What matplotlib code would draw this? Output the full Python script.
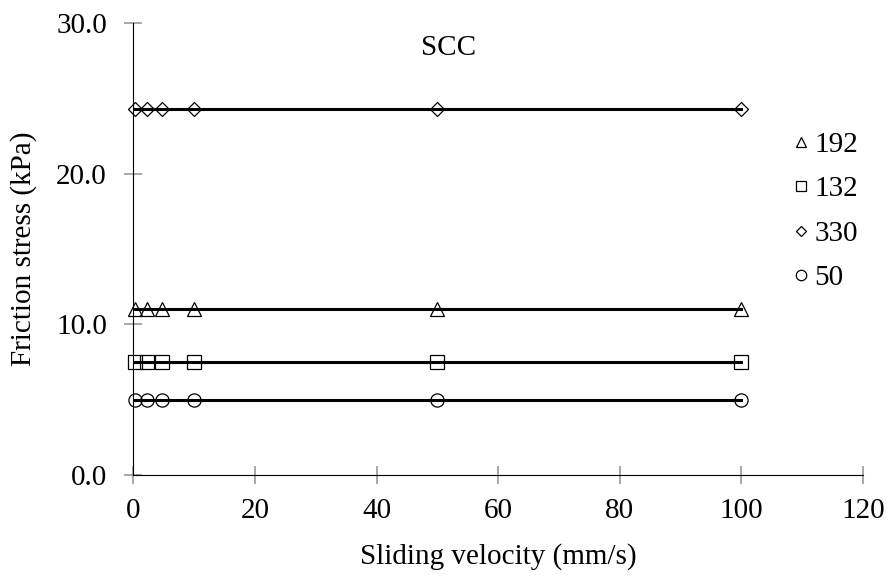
import matplotlib
matplotlib.use('Agg')
import matplotlib.pyplot as plt
from matplotlib.lines import Line2D

plt.rcParams['font.family'] = ['Liberation Serif', 'DejaVu Serif']

velocity = [0.2, 2.2, 4.7, 10, 50, 100]
labels = ['192', '132', '330', '50']
markers = ['^', 's', 'D', 'o']
stress_192 = [11.0, 11.0, 11.0, 11.0, 11.0, 11.0]
stress_132 = [7.5, 7.5, 7.5, 7.5, 7.5, 7.5]
stress_330 = [24.3, 24.3, 24.3, 24.3, 24.3, 24.3]
stress_50 = [5.0, 5.0, 5.0, 5.0, 5.0, 5.0]
series = [stress_192, stress_132, stress_330, stress_50]

fig = plt.figure(figsize=(8.9, 5.76), dpi=100)
ax = fig.add_axes([0.1498, 0.1753, 0.8199, 0.7842])

for ys, m in zip(series, markers):
    # trend line through the points
    ax.plot([velocity[0], velocity[-1]], [sum(ys) / len(ys)] * 2, color='black', lw=2.2, zorder=2)
    ms = 9.5 if m != 'D' else 7.5
    ax.plot(velocity, ys, linestyle='none', marker=m, ms=ms, mfc='none', mec='black',
            mew=0.9, zorder=3, clip_on=False)

ax.set_xlim(0, 120)
ax.set_ylim(0, 30)
ax.set_xticks(range(0, 121, 20))
ax.set_yticks([0, 10, 20, 30])
ax.set_yticklabels(['0.0', '10.0', '20.0', '30.0'])
ax.tick_params(direction='inout', length=13, width=1.2, color='#999999', labelsize=21)
ax.tick_params(axis='y', pad=12.5)
ax.tick_params(axis='x', pad=10)
ax.spines['top'].set_visible(False)
ax.spines['right'].set_visible(False)
ax.set_xlabel('Sliding velocity (mm/s)', fontsize=21, labelpad=14)
ax.set_ylabel('Friction stress (kPa)', fontsize=21, labelpad=14)
ax.text(51.8, 28.35, 'SCC', fontsize=21, ha='center', va='center')

handles = []
for m, lab in zip(markers, labels):
    ms = 7.5 if m != 'D' else 5.5
    handles.append(Line2D([], [], linestyle='none', marker=m, ms=ms, mfc='white',
                          mec='black', mew=0.9, label=lab))
fig.legend(handles=handles, loc='upper left', bbox_to_anchor=(0.866, 0.797), frameon=False,
           fontsize=21, handletextpad=-0.1, labelspacing=0.62, handlelength=1.1, borderpad=0)

fig.savefig('out.png', dpi=100)
